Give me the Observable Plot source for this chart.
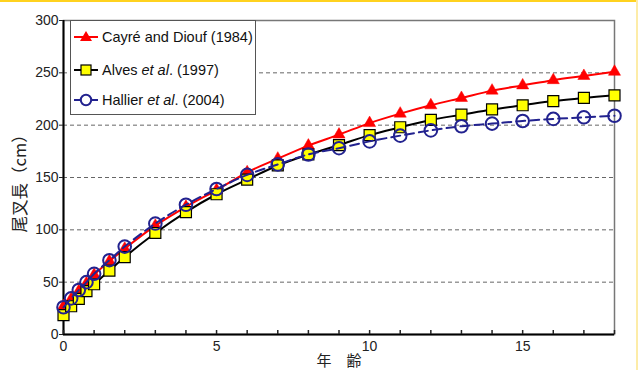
<!DOCTYPE html>
<html>
<head>
<meta charset="utf-8">
<script src="https://cdn.jsdelivr.net/npm/d3@7"></script>
<script src="https://cdn.jsdelivr.net/npm/@observablehq/plot@0.6"></script>
<style>
  html, body { margin: 0; padding: 0; background: #fff; }
  #wrap { position: relative; width: 638px; height: 370px; overflow: hidden; background: #fff; }
  #topband { position: absolute; left: 0; top: 0; width: 638px; height: 2px; background: #ffd21f; }
  #rightband { position: absolute; left: 636px; top: 0; width: 2px; height: 370px; background: #fdeca8; }
  #legend { position: absolute; left: 70px; top: 20px; width: 186px; height: 95px; box-sizing: border-box;
            border: 1.3px solid #555; background: #fff; font-family: "Liberation Sans", Arial, sans-serif;
            font-size: 14.5px; color: #111; }
  .row { position: absolute; left: 2px; height: 20px; display: flex; align-items: center; white-space: nowrap; }
  .row svg { margin-right: 3px; }
</style>
</head>
<body>
<div id="wrap">
  <div id="chart"></div>
  <div id="legend"></div>
  <div id="topband"></div>
  <div id="rightband"></div>
</div>
<script>
// Ages (years)
const ages = [0, 0.25, 0.5, 0.75, 1, 1.5, 2, 3, 4, 5, 6, 7, 8, 9, 10, 11, 12, 13, 14, 15, 16, 17, 18];
// Fork length (cm) per growth model
const cayre   = [27, 34, 41.5, 49, 57, 70, 82, 104, 122, 138, 155, 168, 180.5, 191, 202, 211, 219, 226, 233, 238, 243, 247, 251];
const alves   = [18.5, 27, 34, 41.5, 48, 61, 74, 97, 117, 134, 148, 161.5, 172, 181, 190.5, 198, 205, 210, 215, 219, 223, 226, 228.5];
const hallier = [26, 34.5, 42.5, 50, 58, 71, 84, 106, 124, 139, 152.5, 162.5, 172, 178, 184.5, 190, 195, 199, 201.5, 204, 206, 207.5, 209];
const seriesNames = ["Cayré and Diouf (1984)", "Alves et al. (1997)", "Hallier et al. (2004)"];
const yTicks = [0, 50, 100, 150, 200, 250, 300];
const xTickLabels = [0, 5, 10, 15];
const xTicksMinor = d3.range(0, 19);
const xLabel = "年　齢";
const yLabel = "尾叉長（cm）";

const mk = (vals) => ages.map((a, i) => ({age: a, len: vals[i]}));
const dC = mk(cayre), dA = mk(alves), dH = mk(hallier);

const RED = "#ff0000", NAVY = "#22228f", YEL = "#ffff00";

const chart = Plot.plot({
  width: 638, height: 370,
  marginLeft: 63, marginRight: 24, marginTop: 20, marginBottom: 36,
  x: {domain: [0, 18]},
  y: {domain: [0, 300]},
  style: {fontFamily: "'Liberation Sans', Arial, sans-serif", fontSize: "14px", color: "#222", background: "transparent"},
  marks: [
    Plot.gridY(yTicks.filter(d => d > 0 && d < 300), {stroke: "#666", strokeOpacity: 1, strokeDasharray: "4,3", strokeWidth: 1}),
    Plot.frame({stroke: "#777", strokeWidth: 1.5}),
    Plot.ruleX([0], {stroke: "#000", strokeWidth: 2}),
    Plot.ruleY([0], {stroke: "#000", strokeWidth: 2}),
    Plot.axisY({ticks: yTicks, tickSize: 4, tickPadding: 1, label: null, fontSize: 14}),
    Plot.axisX({ticks: xTicksMinor, tickSize: -4, tickFormat: () => "", label: null, strokeWidth: 1.5}),
    Plot.axisX({ticks: xTickLabels, tickSize: 0, tickPadding: 7, label: null, fontSize: 14}),
    // Cayré
    Plot.line(dC, {x: "age", y: "len", stroke: RED, strokeWidth: 2, curve: "catmull-rom"}),
    Plot.dot(dC, {x: "age", y: "len", symbol: "triangle", r: 4.5, fill: RED, stroke: RED, strokeWidth: 0.5}),
    // Alves
    Plot.line(dA, {x: "age", y: "len", stroke: "#000", strokeWidth: 2, curve: "catmull-rom"}),
    Plot.dot(dA, {x: "age", y: "len", symbol: "square", r: 6.2, fill: YEL, stroke: "#000", strokeWidth: 1.2}),
    // Hallier
    Plot.line(dH, {x: "age", y: "len", stroke: NAVY, strokeWidth: 2, strokeDasharray: "9,5", curve: "catmull-rom"}),
    Plot.dot(dH, {x: "age", y: "len", symbol: "circle", r: 6.3, fill: "none", stroke: NAVY, strokeWidth: 2}),
    // axis titles
    Plot.text([xLabel], {frameAnchor: "bottom", dy: 31, text: d => d, fontSize: 15,
      fontFamily: "'Noto Sans CJK JP', sans-serif", fill: "#222"}),
    Plot.text([yLabel], {frameAnchor: "left", dx: -43, dy: 55, rotate: -90, text: d => d, fontSize: 16.5,
      fontFamily: "'Noto Sans CJK JP', sans-serif", fill: "#222", letterSpacing: "4px"})
  ]
});
document.getElementById("chart").appendChild(chart);

// Legend
const legend = document.getElementById("legend");
const symbols = [
  `<line x1="1" y1="8" x2="25" y2="8" stroke="${RED}" stroke-width="2"/><path d="M13,2 L19,12 L7,12 Z" fill="${RED}"/>`,
  `<line x1="1" y1="8" x2="25" y2="8" stroke="#000" stroke-width="2"/><rect x="8" y="3" width="10" height="10" fill="${YEL}" stroke="#000" stroke-width="1.2"/>`,
  `<line x1="1" y1="8" x2="25" y2="8" stroke="${NAVY}" stroke-width="2"/><circle cx="13" cy="8" r="5.2" fill="#fff" stroke="${NAVY}" stroke-width="2"/>`
];
const labelsHtml = [
  "Cayré and Diouf (1984)",
  "Alves <i>et al</i>. (1997)",
  "Hallier <i>et al</i>. (2004)"
];
const rowTops = [6, 39, 69];
seriesNames.forEach((name, i) => {
  const row = document.createElement("div");
  row.className = "row";
  row.style.top = rowTops[i] + "px";
  row.innerHTML = `<svg width="26" height="16" viewBox="0 0 26 16">${symbols[i]}</svg><span>${labelsHtml[i]}</span>`;
  legend.appendChild(row);
});
</script>
</body>
</html>
